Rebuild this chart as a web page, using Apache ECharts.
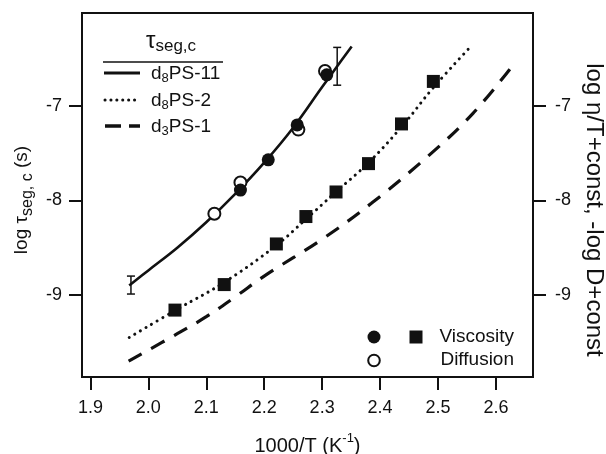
<!DOCTYPE html>
<html>
<head>
<meta charset="utf-8">
<script src="https://cdn.jsdelivr.net/npm/echarts@6/dist/echarts.min.js"></script>
<style>
html,body{margin:0;padding:0;background:#fff;}
#chart{width:606px;height:454px;}
</style>
</head>
<body>
<div id="chart"></div>
<script>
// ---- data ----
const xTicks = [1.9, 2.0, 2.1, 2.2, 2.3, 2.4, 2.5, 2.6];
const yTicks = [-9, -8, -7];
// fit curves (1000/T, log tau)
const curveD8PS11 = [[1.967,-8.90],[2.00,-8.74],[2.05,-8.50],[2.10,-8.23],[2.15,-7.93],[2.20,-7.60],[2.25,-7.23],[2.30,-6.80],[2.326,-6.58],[2.351,-6.37]];
const curveD8PS2 = [[1.967,-9.45],[2.05,-9.15],[2.13,-8.87],[2.22,-8.48],[2.27,-8.21],[2.32,-7.93],[2.38,-7.60],[2.44,-7.20],[2.49,-6.82],[2.552,-6.40]];
const curveD3PS1 = [[1.966,-9.70],[2.05,-9.41],[2.10,-9.23],[2.15,-9.02],[2.20,-8.80],[2.30,-8.41],[2.385,-8.03],[2.483,-7.53],[2.56,-7.08],[2.633,-6.54]];
// points
const viscosityCircles = [[2.159,-7.89],[2.207,-7.57],[2.257,-7.20],[2.308,-6.67]];
const diffusionCircles = [[2.114,-8.14],[2.159,-7.81],[2.259,-7.25],[2.305,-6.63]];
const viscositySquares = [[2.046,-9.16],[2.131,-8.89],[2.221,-8.46],[2.272,-8.17],[2.324,-7.91],[2.380,-7.61],[2.437,-7.19],[2.492,-6.74]];
// error bars: [x, low, high]
const errorBars = [[1.970,-8.99,-8.80],[2.326,-6.78,-6.38]];

const FONT = '"Liberation Sans", Arial, Helvetica, sans-serif';
const INK = '#111';

const chart = echarts.init(document.getElementById('chart'), null, {renderer:'canvas'});

const axisCommon = {
  type: 'value',
  axisLine: {show: true, onZero: false, lineStyle: {color: INK, width: 2}},
  axisTick: {show: true, inside: false, length: 13, lineStyle: {color: INK, width: 2}},
  splitLine: {show: false},
};

const option = {
  animation: false,
  backgroundColor: '#fff',
  grid: {left: 82, right: 73, top: 13, bottom: 77, containLabel: false, outerBoundsMode: 'none',
    show: true, borderColor: INK, borderWidth: 2, backgroundColor: 'transparent'},
  xAxis: Object.assign({}, axisCommon, {
    min: 1.8855, max: 2.664,
    axisTick: Object.assign({}, axisCommon.axisTick, {customValues: xTicks}),
    axisLabel: {customValues: xTicks, formatter: v => v.toFixed(1), fontFamily: FONT, fontSize: 18, color: INK, margin: 22},
    name: '{n|1000/T (K}{sup|-1}{n|)}',
    nameLocation: 'middle', nameGap: 55,
    nameTextStyle: {fontFamily: FONT, color: INK, rich: {
      n: {fontFamily: FONT, fontSize: 20, color: INK, lineHeight: 24, verticalAlign: 'bottom'},
      sup: {fontFamily: FONT, fontSize: 13, color: INK, lineHeight: 24, verticalAlign: 'top', padding: [0,0,8,0]}
    }}
  }),
  yAxis: [
    Object.assign({}, axisCommon, {
      position: 'left', min: -9.868, max: -6.016,
      axisTick: Object.assign({}, axisCommon.axisTick, {customValues: yTicks}),
      axisLabel: {customValues: yTicks, fontFamily: FONT, fontSize: 18, color: INK, margin: 20},
      name: '{n|log τ}{s|seg, c}{n| (s)}',
      nameLocation: 'middle', nameGap: 37, nameRotate: 90,
      nameTextStyle: {fontFamily: FONT, color: INK, padding: [0,0,0,-10], rich: {
        n: {fontFamily: FONT, fontSize: 19, color: INK, lineHeight: 26},
        s: {fontFamily: FONT, fontSize: 16, color: INK, lineHeight: 14, verticalAlign: 'bottom'}
      }}
    }),
    Object.assign({}, axisCommon, {
      position: 'right', min: -9.868, max: -6.016,
      axisTick: Object.assign({}, axisCommon.axisTick, {customValues: yTicks}),
      axisLabel: {customValues: yTicks, fontFamily: FONT, fontSize: 18, color: INK, margin: 22},
      name: 'log η/T+const, -log D+const',
      nameLocation: 'middle', nameGap: 44, nameRotate: -90,
      nameTextStyle: {fontFamily: FONT, fontSize: 24, color: INK, padding: [0,0,0,30]}
    })
  ],
  series: [
    {name: 'd8PS-11', type: 'line', data: curveD8PS11, smooth: 0.4, showSymbol: false, symbol: 'none',
      lineStyle: {color: INK, width: 2.6}, z: 2},
    {name: 'd8PS-2', type: 'line', data: curveD8PS2, smooth: 0.4, showSymbol: false, symbol: 'none',
      lineStyle: {color: INK, width: 3, type: [0.1, 6.4], cap: 'round'}, z: 2},
    {name: 'd3PS-1', type: 'line', data: curveD3PS1, smooth: 0.4, showSymbol: false, symbol: 'none',
      lineStyle: {color: INK, width: 3.2, type: [15, 11]}, z: 2},
    {name: 'errorbars', type: 'custom', data: errorBars, z: 3,
      renderItem: function(params, api) {
        const x = api.value(0);
        const lo = api.coord([x, api.value(1)]);
        const hi = api.coord([x, api.value(2)]);
        const w = 4;
        const st = {stroke: INK, lineWidth: 1.5};
        return {type: 'group', children: [
          {type: 'line', shape: {x1: lo[0], y1: lo[1], x2: hi[0], y2: hi[1]}, style: st},
          {type: 'line', shape: {x1: lo[0]-w, y1: lo[1], x2: lo[0]+w, y2: lo[1]}, style: st},
          {type: 'line', shape: {x1: hi[0]-w, y1: hi[1], x2: hi[0]+w, y2: hi[1]}, style: st}
        ]};
      }},
    {name: 'Diffusion', type: 'scatter', data: diffusionCircles, symbol: 'circle', symbolSize: 12,
      itemStyle: {color: '#fff', borderColor: INK, borderWidth: 2, opacity: 1}, z: 4},
    {name: 'Viscosity', type: 'scatter', data: viscosityCircles, symbol: 'circle', symbolSize: 13,
      itemStyle: {color: INK, opacity: 1}, z: 5},
    {name: 'Viscosity squares', type: 'scatter', data: viscositySquares, symbol: 'rect', symbolSize: 13,
      itemStyle: {color: INK, opacity: 1}, z: 5}
  ],
  graphic: [
    // top-left legend
    {type: 'text', x: 171, y: 41, style: {text: '{t|τ}{s|seg,c}', align: 'center', verticalAlign: 'middle',
      rich: {t: {fontFamily: FONT, fontSize: 24, fill: INK, lineHeight: 28}, s: {fontFamily: FONT, fontSize: 17, fill: INK, lineHeight: 16, verticalAlign: 'bottom'}}}},
    {type: 'line', shape: {x1: 103, y1: 62, x2: 223, y2: 62}, style: {stroke: INK, lineWidth: 1.5}},
    {type: 'line', shape: {x1: 104, y1: 73, x2: 140, y2: 73}, style: {stroke: INK, lineWidth: 3}},
    {type: 'line', shape: {x1: 105, y1: 100, x2: 140, y2: 100}, style: {stroke: INK, lineWidth: 3, lineDash: [0.1, 5.8], lineCap: 'round'}},
    {type: 'line', shape: {x1: 105, y1: 126, x2: 140, y2: 126}, style: {stroke: INK, lineWidth: 3.4, lineDash: [16, 8]}},
    {type: 'text', x: 151, y: 74, style: {text: '{n|d}{s|8}{n|PS-11}', verticalAlign: 'middle',
      rich: {n: {fontFamily: FONT, fontSize: 19, fill: INK, lineHeight: 22}, s: {fontFamily: FONT, fontSize: 13, fill: INK, lineHeight: 12, verticalAlign: 'bottom'}}}},
    {type: 'text', x: 151, y: 101, style: {text: '{n|d}{s|8}{n|PS-2}', verticalAlign: 'middle',
      rich: {n: {fontFamily: FONT, fontSize: 19, fill: INK, lineHeight: 22}, s: {fontFamily: FONT, fontSize: 13, fill: INK, lineHeight: 12, verticalAlign: 'bottom'}}}},
    {type: 'text', x: 151, y: 127, style: {text: '{n|d}{s|3}{n|PS-1}', verticalAlign: 'middle',
      rich: {n: {fontFamily: FONT, fontSize: 19, fill: INK, lineHeight: 22}, s: {fontFamily: FONT, fontSize: 13, fill: INK, lineHeight: 12, verticalAlign: 'bottom'}}}},
    // bottom-right legend
    {type: 'circle', shape: {cx: 374, cy: 337, r: 6.5}, style: {fill: INK}},
    {type: 'rect', shape: {x: 409.5, y: 330.5, width: 13, height: 13}, style: {fill: INK}},
    {type: 'text', x: 514, y: 337, style: {text: 'Viscosity', align: 'right', verticalAlign: 'middle', fontFamily: FONT, fontSize: 19, fill: INK}},
    {type: 'circle', shape: {cx: 374, cy: 360.5, r: 5.8}, style: {fill: '#fff', stroke: INK, lineWidth: 2}},
    {type: 'text', x: 514, y: 360, style: {text: 'Diffusion', align: 'right', verticalAlign: 'middle', fontFamily: FONT, fontSize: 19, fill: INK}}
  ]
};
chart.setOption(option);
</script>
</body>
</html>
